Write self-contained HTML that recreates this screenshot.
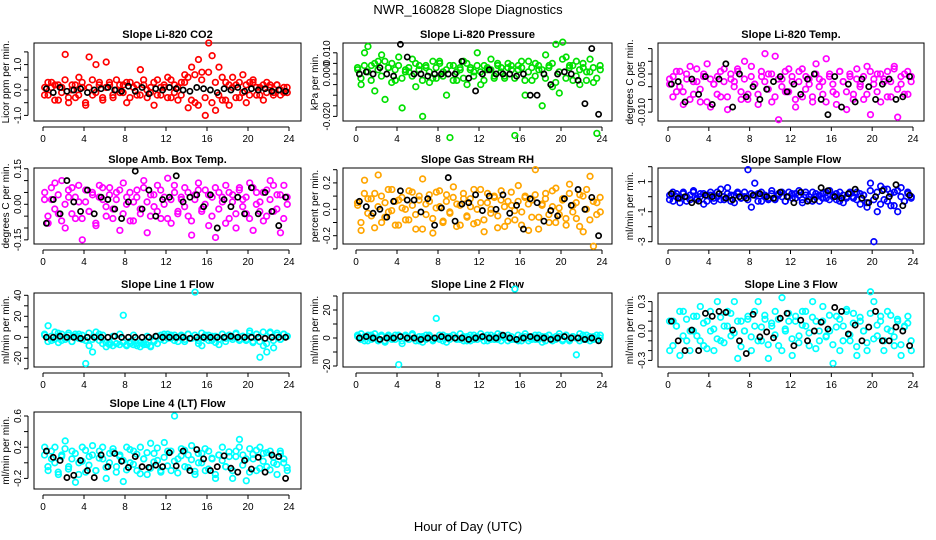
<!DOCTYPE html>
<html><head><meta charset="utf-8"><style>
body{margin:0;background:#fff}
svg{display:block;font-family:"Liberation Sans",Arial,sans-serif}
</style></head><body>
<svg id="chart" width="936" height="540" viewBox="0 0 936 540" xmlns="http://www.w3.org/2000/svg">
<text x="468" y="14" font-size="13" text-anchor="middle">NWR_160828  Slope Diagnostics</text>
<text x="468" y="531" font-size="13" text-anchor="middle">Hour of Day (UTC)</text>
</svg>
<script>
const xTicks=[0,4,8,12,16,20,24];
const co2Vals=[0.1,-0.2,0.3,0.2,-0.4,0.1,1.4,-0.5,0.2,-0.3,0.5,0.1,-0.6,1.3,-0.2,1.0,0.3,-0.4,1.1,0.2,-0.3,0.4,-0.1,0.2,-0.5,0.3,0.1,-0.2,0.8,0.2,-0.3,0.1,-0.6,0.4,-0.2,0.1,0.5,-0.3,0.2,-0.4,0.3,0.6,-0.7,0.9,-0.5,1.2,0.7,-1.0,1.85,1.35,-0.8,0.9,-0.4,0.3,-0.6,0.5,0.2,-0.3,0.6,-0.5,0.3,0.4,-0.2,0.1,-0.4,0.3,0.2,-0.1,0.2,-0.2,0.1,-0.1];
const co2ValsB=[-0.2,0.3,0.1,-0.4,0.2,-0.1,0.4,-0.3,0.0,0.2,-0.2,0.3,-0.5,0.1,0.4,-0.1,0.2,-0.3,0.1,0.3,-0.2,0.0,0.2,-0.1,0.3,-0.3,0.1,0.2,-0.2,0.4,0.0,-0.1,0.3,-0.2,0.1,0.2,-0.3,0.4,-0.1,0.1,-0.2,0.3,0.5,-0.4,0.6,-0.6,0.4,-0.3,0.7,-0.5,0.3,-0.2,0.5,-0.4,0.2,0.1,-0.3,0.3,-0.1,0.2,-0.2,0.3,0.1,-0.2,0.2,-0.1,0.1,-0.2,0.2,0.0,-0.1,0.1];
const co2Black=[0.05,-0.1,0.1,-0.05,0,0.05,-0.1,0,0.05,0.1,0,-0.05,0.15,-0.05,0.1,-0.15,0.05,0,0.1,0.05,0,-0.05,0.1,0.05,0,-0.1,0.05,0,0.1,-0.05,0.05,0,0.05,-0.05,0,-0.05];
const presVals=[0.002,-0.005,0.01,0.013,0.004,-0.008,0.006,0.009,-0.012,0.003,0.005,-0.003,0.008,-0.016,0.002,0.001,0.007,-0.006,0.004,-0.02,0.003,-0.004,0.006,-0.002,0.005,0.001,-0.01,-0.03,0.004,-0.003,0.002,0.006,-0.005,0.003,0.001,0.01,-0.005,0.004,0.002,0.007,-0.001,0.004,0.003,-0.002,0.005,0.002,-0.029,0.004,0.003,-0.01,0.006,-0.003,0.005,0.002,-0.015,0.009,0.004,-0.006,0.014,-0.009,0.015,0.008,0.004,-0.003,0.006,-0.005,0.003,0.001,0.007,-0.004,-0.028,0.002];
const presValsB=[0.003,-0.002,0.004,0.001,-0.003,0.005,0.002,-0.001,0.006,0.003,-0.004,0.002,0.004,-0.002,0.001,0.003,-0.001,0.005,0.002,-0.003,0.004,0.001,-0.002,0.003,0.006,-0.001,0.002,0.004,-0.003,0.001,0.003,-0.002,0.005,0.002,-0.001,0.004,0.001,-0.003,0.003,0.002,-0.002,0.005,0.001,-0.001,0.003,0.004,-0.002,0.002,0.006,-0.003,0.001,0.003,-0.001,0.004,0.002,-0.002,0.003,0.005,-0.004,0.001,0.007,-0.002,0.003,0.004,-0.001,0.002,0.005,-0.003,0.001,0.003,-0.002,0.004];
const presBlack=[0,0.001,0,0.003,0,-0.001,0.014,0.008,0,0,-0.001,0,0,0,0,0.006,-0.002,-0.008,0,0.002,0,0,0,-0.001,0,-0.01,-0.01,0,-0.005,0,0.001,0,-0.003,-0.014,0.012,-0.019];
const tempVals=[0.001,0.004,-0.002,0.006,-0.007,0.003,0.008,-0.003,0.002,-0.006,0.005,0.009,-0.008,0.001,0.004,-0.004,0.007,-0.009,0.003,0.002,0.006,-0.005,0.01,-0.003,0.008,0.001,-0.007,0.004,0.013,0.005,-0.006,0.012,-0.013,0.003,-0.002,0.007,0.002,-0.008,0.006,-0.004,0.004,0.001,-0.006,0.009,0.003,-0.003,0.011,0.005,-0.002,-0.007,0.006,0.002,-0.009,0.004,-0.003,0.007,0.001,-0.005,0.008,-0.011,0.003,0.005,-0.006,0.002,0.006,-0.004,0.008,-0.012,0.001,0.005,-0.003,0.004];
const tempValsB=[0.003,-0.004,0.006,0.0,-0.002,0.005,-0.005,0.002,0.007,-0.001,0.004,-0.006,0.003,0.001,-0.003,0.006,0.002,-0.004,0.005,0.0,0.007,-0.002,0.003,-0.005,0.004,0.001,-0.003,0.006,0.002,-0.001,0.005,-0.004,0.003,0.0,0.006,-0.002,0.004,-0.005,0.002,0.007,-0.001,0.003,-0.004,0.005,0.0,0.002,-0.006,0.004,0.001,-0.003,0.006,0.002,-0.002,0.005,-0.005,0.003,0.0,0.004,-0.003,0.006,0.001,-0.002,0.005,0.003,-0.004,0.002,0.007,-0.001,0.004,-0.003,0.006,0.002];
const tempBlack=[0.001,0.002,-0.006,0.003,-0.003,0.004,-0.007,0.003,0.009,-0.008,0.005,-0.004,0,-0.005,-0.001,0.002,0.004,-0.002,0.001,-0.003,0.003,0.005,-0.005,-0.011,0.004,-0.008,0.001,-0.006,0.003,0,-0.005,0.001,0.003,-0.005,-0.004,0.004];
const ambVals=[0.05,-0.08,0.02,0.09,-0.04,0.1,-0.1,0.03,0.07,-0.06,0.01,-0.15,0.06,-0.03,0.04,-0.09,0.08,0.02,-0.05,0.07,-0.02,0.05,-0.11,0.09,0.03,-0.07,0.01,0.06,-0.04,0.1,-0.12,0.04,-0.01,0.08,-0.06,0.03,0.11,-0.08,0.05,-0.03,0.02,0.07,-0.05,-0.13,0.04,0.09,-0.02,0.06,-0.09,0.03,-0.14,0.05,0.01,0.08,-0.06,0.04,-0.1,0.07,0.02,-0.04,0.09,-0.11,0.05,0.01,-0.07,0.06,0.1,-0.03,0.04,-0.12,0.08,0.0];
const ambValsB=[0.02,-0.05,0.07,-0.02,0.04,-0.07,0.0,0.06,-0.04,0.03,0.08,-0.06,0.01,-0.03,0.05,-0.08,0.03,0.07,-0.01,0.04,-0.06,0.02,0.06,-0.04,0.0,0.05,-0.07,0.03,-0.02,0.07,0.01,-0.05,0.04,-0.03,0.06,0.0,-0.06,0.02,0.08,-0.04,0.03,-0.01,0.05,-0.07,0.02,0.06,-0.03,0.0,0.04,-0.05,0.07,-0.02,0.03,-0.08,0.05,0.01,-0.04,0.06,-0.01,0.03,-0.06,0.07,0.0,-0.03,0.05,-0.05,0.02,0.08,-0.02,0.04,-0.06,0.03];
const ambBlack=[-0.08,0.02,-0.04,0.1,0.01,-0.03,0.06,-0.04,0.03,0.02,-0.02,-0.06,0.01,0.14,-0.02,0.06,-0.05,0.02,0.03,0.12,0.01,0.03,0.04,-0.01,0.04,-0.1,0.02,-0.01,0.03,-0.04,0.07,-0.04,0.05,-0.03,-0.09,0.03];
const rhVals=[0.03,-0.16,0.22,0.08,-0.05,0.12,0.26,-0.1,0.05,-0.02,0.15,-0.12,0.07,0.01,-0.08,0.14,0.03,-0.15,0.1,0.23,-0.04,0.06,-0.18,0.13,0.02,-0.09,0.11,-0.03,0.17,0.04,-0.12,0.08,-0.06,0.02,0.15,-0.1,0.05,-0.17,0.12,0.0,0.09,-0.05,0.14,-0.13,0.06,0.03,-0.08,0.18,-0.02,0.1,-0.16,0.07,0.3,-0.06,0.04,0.12,-0.1,0.02,0.16,-0.04,0.08,-0.12,0.19,0.03,-0.07,0.11,-0.17,0.15,0.25,-0.28,0.05,-0.02];
const rhValsB=[0.05,-0.1,0.12,-0.03,0.08,-0.14,0.02,0.1,-0.06,0.15,-0.01,0.06,-0.12,0.09,0.0,-0.08,0.13,-0.04,0.07,-0.15,0.04,0.11,-0.07,0.01,0.14,-0.1,0.06,-0.02,0.09,-0.13,0.03,0.12,-0.05,0.08,-0.11,0.0,0.15,-0.08,0.05,-0.03,0.1,-0.14,0.07,0.02,-0.09,0.13,-0.01,0.06,-0.12,0.09,0.04,-0.06,0.11,-0.15,0.03,0.08,-0.04,0.14,-0.1,0.01,0.07,-0.07,0.12,-0.02,0.05,-0.13,0.1,0.0,-0.08,0.06,-0.04,0.09];
const rhBlack=[0.06,0.02,-0.03,0,-0.06,0.06,0.14,0.07,0.07,-0.02,0.08,-0.12,0.01,0.24,-0.09,0.04,0.05,0.11,-0.01,0.1,0,0.11,-0.03,0.03,-0.15,0.08,0.05,-0.09,-0.01,-0.05,0.08,0.03,0.15,0,0.09,-0.2];
const flowVals=[0.1,-0.3,0.2,-0.4,0.3,0.0,-0.2,0.4,-0.1,0.2,-0.5,0.1,0.3,-0.3,0.0,0.5,-0.2,0.6,0.1,-0.4,0.2,-0.1,0.3,1.8,-0.7,0.9,0.2,-0.3,0.1,-0.2,0.4,-0.1,0.2,0.0,-0.3,0.3,-0.1,0.2,0.4,-0.4,0.1,-0.2,0.3,0.0,-0.3,0.2,-0.1,0.4,0.1,-0.2,0.3,-0.4,0.0,0.2,-0.1,0.3,-0.5,0.1,-0.7,0.9,-3.0,-1.0,0.7,-0.2,0.5,-0.6,0.3,-1.0,0.6,-0.3,0.2,0.0];
const flowValsB=[-0.2,0.3,0.0,-0.1,0.2,-0.3,0.1,0.3,-0.2,0.0,0.2,-0.3,0.1,-0.1,0.3,-0.2,0.0,0.2,-0.3,0.1,0.3,-0.1,0.0,-0.2,0.2,0.1,-0.3,0.3,0.0,-0.1,0.2,-0.2,0.1,0.3,-0.3,0.0,0.2,-0.1,0.1,-0.2,0.3,0.0,-0.3,0.2,0.1,-0.1,0.3,-0.2,0.0,0.2,-0.3,0.1,-0.1,0.3,0.0,-0.2,0.2,0.1,-0.4,0.4,-0.2,0.3,-0.5,0.5,-0.3,0.2,-0.6,0.4,0.0,-0.3,0.3,-0.1];
const flowBlack=[0.2,-0.1,0,-0.4,-0.3,0.1,0,0.2,-0.1,-0.2,0,-0.1,0.1,0.2,0,-0.1,0.3,0,-0.4,0.3,-0.3,-0.2,0.6,0.4,0,-0.1,0.2,0.5,-0.1,-0.4,0,0.4,0,0.8,-0.6,0.1];
const line1Vals=[2,11,-3,5,-5,3,-2,4,-4,1,3,-2,-25,-8,-14,5,-3,2,-9,-5,1,-6,3,21,-7,-6,2,-8,-5,-7,1,-9,-4,-6,2,-3,3,-1,2,-4,1,-2,3,-1,43,-6,-8,2,-3,1,-5,-7,3,-1,2,-2,4,-3,1,-2,6,-4,3,-19,-8,-14,5,-10,4,-2,3,1];
const line1ValsB=[3,-4,1,-2,4,-3,0,2,-4,3,-1,2,-3,4,-2,0,3,-6,-5,-7,-8,-6,-7,-5,-8,-4,-7,-6,-9,-5,-7,-8,-3,1,-2,3,-1,2,-3,0,2,-4,3,-1,2,-3,4,-1,2,-3,1,-2,3,-4,2,0,3,-2,1,-3,4,-5,3,-4,5,-6,4,-3,2,-2,3,1];
const line1Black=[0,0,1,0,0,-1,0,0,0,0,1,0,0,0,0,0,1,0,0,0,0,-1,0,0,0,0,0,1,0,0,0,0,-1,0,0,0];
const line2Vals=[1,3,-2,2,-1,3,-2,1,-3,2,-1,2,-19,-4,2,-1,3,-2,1,-3,2,1,-2,14,-1,2,-3,1,2,-1,3,-2,1,-2,2,-1,3,1,-2,2,-1,3,-2,1,2,-1,35,-2,1,3,-2,1,-1,2,-3,1,2,-2,1,3,-1,2,-2,1,-12,3,-1,2,-2,1,-1,2];
const line2ValsB=[2,-1,1,-2,2,0,-1,2,-2,1,0,-1,2,-2,1,-1,2,0,-2,1,-1,2,-1,0,2,-2,1,-1,2,0,-1,1,-2,2,-1,1,0,-2,2,-1,1,-1,2,0,-2,1,-1,2,-2,1,0,-1,2,-1,1,-2,2,0,-1,1,-2,2,-1,1,0,-2,2,-1,1,-1,2,0];
const line2Black=[0,1,0,-1,0,0,1,0,0,-1,0,0,1,0,0,0,-1,0,1,0,0,2,0,-1,0,1,0,0,-1,0,1,0,0,-1,0,-2];
const line3Vals=[-0.2,0.1,0.05,-0.25,0.2,-0.1,0.0,0.15,-0.05,0.25,-0.15,0.1,0.0,-0.2,0.3,-0.1,0.05,0.2,-0.05,0.3,-0.28,0.1,0.0,0.15,-0.2,0.05,0.3,-0.1,0.12,-0.28,0.05,0.2,-0.15,0.34,0.0,0.1,-0.25,0.15,-0.05,0.2,0.05,-0.15,0.3,0.1,-0.1,0.25,-0.05,0.0,-0.33,0.15,-0.2,0.05,0.22,-0.1,0.18,-0.25,0.1,0.0,-0.2,0.4,0.3,-0.05,0.15,-0.1,0.2,0.0,-0.15,0.1,-0.25,0.05,0.15,-0.2];
const line3ValsB=[0.1,-0.15,0.05,0.2,-0.05,0.12,-0.2,0.0,0.15,-0.1,0.08,-0.18,0.2,0.02,-0.08,0.14,-0.12,0.05,0.18,-0.02,0.1,-0.16,0.0,0.12,-0.06,0.2,-0.1,0.04,0.16,-0.14,0.08,-0.04,0.12,-0.2,0.02,0.18,-0.08,0.1,-0.12,0.06,0.2,-0.02,0.14,-0.18,0.0,0.1,-0.06,0.16,-0.14,0.04,0.12,-0.1,0.2,-0.04,0.08,-0.16,0.14,0.0,-0.12,0.18,-0.08,0.06,0.1,-0.2,0.02,0.16,-0.06,0.12,-0.14,0.04,0.08,-0.1];
const line3Black=[0.1,-0.1,-0.2,0.01,-0.2,0.18,0.15,0.2,0.19,0.01,-0.1,-0.23,0.17,-0.06,-0.01,-0.07,0.13,0.18,-0.15,0.11,-0.1,0,0.09,0.02,0.24,0.2,-0.03,0.06,-0.1,0.04,0.2,-0.1,-0.1,0.04,0,-0.15];
const line4Vals=[0.2,-0.1,0.05,0.2,-0.15,0.1,0.28,-0.05,0.15,-0.25,0.0,0.2,-0.12,0.08,0.22,-0.1,0.15,0.05,-0.2,0.12,0.18,-0.05,0.1,-0.24,0.2,0.0,0.15,-0.1,0.2,0.05,-0.15,0.25,0.12,0.03,-0.12,0.26,0.15,-0.1,0.6,0.05,0.18,-0.05,0.1,0.22,-0.15,0.0,0.12,-0.1,0.15,0.05,-0.2,0.1,0.2,-0.05,0.08,-0.2,0.15,0.3,0.1,-0.23,0.18,0.05,-0.1,0.2,0.12,-0.05,0.15,0.0,-0.15,0.12,0.05,-0.1];
const line4ValsB=[0.1,-0.05,0.15,0.0,-0.12,0.08,0.18,-0.08,0.05,0.12,-0.15,0.02,0.16,-0.03,0.1,-0.1,0.06,0.2,-0.06,0.0,0.14,-0.12,0.08,0.03,-0.09,0.17,-0.02,0.11,-0.14,0.05,0.13,-0.07,0.01,0.19,-0.1,0.07,-0.04,0.15,0.02,-0.13,0.09,0.16,-0.06,0.04,-0.11,0.12,0.0,0.18,-0.08,0.06,-0.15,0.1,0.03,-0.05,0.14,-0.1,0.08,0.2,-0.03,0.05,-0.12,0.11,0.16,-0.07,0.02,0.13,-0.09,0.07,-0.02,0.15,0.0,-0.06];
const line4Black=[0.15,0.07,0.03,-0.19,-0.16,0.03,-0.1,-0.19,0.1,-0.05,0.12,0.02,-0.06,0.08,-0.05,-0.06,-0.03,-0.05,0.13,-0.04,0.15,-0.1,0.17,0.05,-0.1,-0.05,0.09,-0.07,-0.12,0.03,-0.08,0.07,-0.12,0.1,0.08,-0.2];

const cols=[{l:34,r:301,x0:43,x1:289},{l:343,r:612,x0:356,x1:602},{l:658,r:924,x0:668,x1:913}];
const rows=[{t:43,b:121},{t:168,b:244},{t:293,b:367},{t:412,b:489}];
const panels=[
 {name:'co2',title:'Slope Li-820 CO2',ylab:'Licor ppm per min.',c:0,r:0,color:'#ff0000',vals:co2Vals,valsB:co2ValsB,blk:co2Black,y0:90,k:25.4,ticks:[-1,-0.5,0,0.5,1,1.5],labels:{'-1':'-1.0','0':'0.0','1':'1.0'}},
 {name:'pressure',title:'Slope Li-820 Pressure',ylab:'kPa per min.',c:1,r:0,color:'#00e000',vals:presVals,valsB:presValsB,blk:presBlack,y0:74,k:2120,ticks:[-0.02,-0.015,-0.01,-0.005,0,0.005,0.01],labels:{'-0.02':'-0.020','0':'0.000','0.01':'0.010'}},
 {name:'temp',title:'Slope Li-820 Temp.',ylab:'degrees C per min.',c:2,r:0,color:'#ff00ff',vals:tempVals,valsB:tempValsB,blk:tempBlack,y0:86.7,k:2540,ticks:[-0.01,-0.005,0,0.005,0.01,0.015],labels:{'-0.01':'-0.010','0.005':'0.005'}},
 {name:'amb-box-temp',title:'Slope Amb. Box Temp.',ylab:'degrees C per min.',c:0,r:1,color:'#ff00ff',vals:ambVals,valsB:ambValsB,blk:ambBlack,y0:204.3,k:237,ticks:[-0.15,-0.1,-0.05,0,0.05,0.1,0.15],labels:{'-0.15':'-0.15','0':'0.00','0.15':'0.15'}},
 {name:'rh',title:'Slope Gas Stream RH',ylab:'percent per min.',c:1,r:1,color:'#ffa500',vals:rhVals,valsB:rhValsB,blk:rhBlack,y0:209.3,k:132,ticks:[-0.3,-0.2,-0.1,0,0.1,0.2,0.3],labels:{'-0.2':'-0.2','0':'0.0','0.2':'0.2'}},
 {name:'sample-flow',title:'Slope Sample Flow',ylab:'ml/min per min.',c:2,r:1,color:'#0000ff',vals:flowVals,valsB:flowValsB,blk:flowBlack,y0:196.7,k:15,ticks:[-3,-2,-1,0,1,2],labels:{'-3':'-3','-1':'-1','1':'1'}},
 {name:'line1-flow',title:'Slope Line 1 Flow',ylab:'ml/min per min.',c:0,r:2,color:'#00ffff',vals:line1Vals,valsB:line1ValsB,blk:line1Black,y0:337.3,k:1.05,ticks:[-30,-20,-10,0,10,20,30,40],labels:{'-20':'-20','0':'0','20':'20','40':'40'}},
 {name:'line2-flow',title:'Slope Line 2 Flow',ylab:'ml/min per min.',c:1,r:2,color:'#00ffff',vals:line2Vals,valsB:line2ValsB,blk:line2Black,y0:338,k:1.4,ticks:[-20,-10,0,10,20,30],labels:{'-20':'-20','0':'0','20':'20'}},
 {name:'line3-flow',title:'Slope Line 3 Flow',ylab:'ml/min per min.',c:2,r:2,color:'#00ffff',vals:line3Vals,valsB:line3ValsB,blk:line3Black,y0:331,k:98,ticks:[-0.3,-0.2,-0.1,0,0.1,0.2,0.3],labels:{'-0.3':'-0.3','0':'0.0','0.3':'0.3'}},
 {name:'line4-flow',title:'Slope Line 4 (LT) Flow',ylab:'ml/min per min.',c:0,r:3,color:'#00ffff',vals:line4Vals,valsB:line4ValsB,blk:line4Black,y0:462.8,k:78,ticks:[-0.2,0,0.2,0.4,0.6],labels:{'-0.2':'-0.2','0.2':'0.2','0.6':'0.6'}}
];
const NS='http://www.w3.org/2000/svg';
const svg=document.getElementById('chart');
function mk(tag,attrs,parent){const e=document.createElementNS(NS,tag);for(const k in attrs)e.setAttribute(k,attrs[k]);(parent||svg).appendChild(e);return e;}
panels.forEach(p=>{
 const C=cols[p.c],R=rows[p.r];
 const g=mk('g',{});
 
 
 const xs=v=>C.x0+(C.x1-C.x0)*v/24;
 const ys=v=>p.y0-v*p.k;
 const t=mk('text',{x:(C.l+C.r)/2,y:R.t-5,'font-size':11,'font-weight':'bold','text-anchor':'middle'},g);
 t.textContent=p.title;
 
 
 const box=mk('rect',{x:C.l,y:R.t,width:C.r-C.l,height:R.b-R.t,fill:'none',stroke:'#000','stroke-width':1},g);
 
 
 const xa=mk('g',{},g);
 
 
 mk('line',{x1:xs(0),x2:xs(24),y1:R.b+6,y2:R.b+6,stroke:'#000'},xa);
 xTicks.forEach(v=>{
  mk('line',{x1:xs(v),x2:xs(v),y1:R.b+6,y2:R.b+10,stroke:'#000'},xa);
  const tl=mk('text',{x:xs(v),y:R.b+21,'font-size':10,'text-anchor':'middle'},xa);
  tl.textContent=v;
  
  
 });
 const ya=mk('g',{},g);
 
 
 const tv=p.ticks;
 mk('line',{x1:C.l-6,x2:C.l-6,y1:ys(tv[0]),y2:ys(tv[tv.length-1]),stroke:'#000'},ya);
 tv.forEach(v=>{
  const yy=ys(v);
  mk('line',{x1:C.l-10,x2:C.l-6,y1:yy,y2:yy,stroke:'#000'},ya);
  const lab=p.labels[String(v)];
  if(lab){
   const tl=mk('text',{x:C.l-13,y:yy,'font-size':10,'text-anchor':'middle',transform:`rotate(-90 ${C.l-13} ${yy})`},ya);
   tl.textContent=lab;
   
   
  }
 });
 const yt=mk('text',{x:C.l-25,y:(R.t+R.b)/2,'font-size':10,'text-anchor':'middle',transform:`rotate(-90 ${C.l-25} ${(R.t+R.b)/2})`},g);
 yt.textContent=p.ylab;
 
 
 const n=p.vals.length;
 p.vals.forEach((v,i)=>{
  const c=mk('circle',{cx:xs((i+0.5)*24/n),cy:ys(v),r:2.8,fill:'none',stroke:p.color,'stroke-width':1.7},g);
  
  
 });
 const nb=p.valsB.length;
 p.valsB.forEach((v,i)=>{
  const c=mk('circle',{cx:xs(i*24/nb+0.15),cy:ys(v),r:2.8,fill:'none',stroke:p.color,'stroke-width':1.7},g);
  
  
 });
 const m=p.blk.length;
 p.blk.forEach((v,i)=>{
  const c=mk('circle',{cx:xs((i+0.5)*24/m),cy:ys(v),r:2.6,fill:'none',stroke:'#000','stroke-width':1.7},g);
  
  
 });
});
</script>
</body></html>
